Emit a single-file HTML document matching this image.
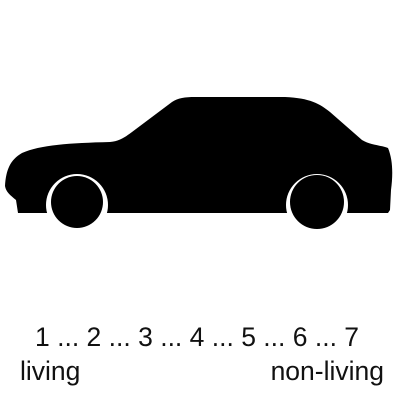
<!DOCTYPE html>
<html><head><style>
body{margin:0;background:#fff;width:400px;height:400px;overflow:hidden;font-family:"Liberation Sans",sans-serif;}
svg{position:absolute;left:0;top:0}
</style></head><body>
<svg width="400" height="400">
<g>
<path d="M18,213 L16,200 C10,195 6,192 5,186 C6,170 10,160 22,153 C40,145 70,143 110,142 C120,141 125,137 132,132 L172,102 C178,98 185,97 195,97 L285,97 C310,98 320,104 330,112 L362,140 C370,145 380,145 388,148 C393,160 393,175 391,190 L390,210 L388,213 Z" fill="#000"/>
<circle cx="77" cy="205" r="31" fill="#fff"/>
<circle cx="317" cy="205" r="31" fill="#fff"/>
<rect x="0" y="213" width="400" height="30" fill="#fff"/>
<circle cx="77" cy="202" r="26" fill="#000"/>
<circle cx="317" cy="202" r="27" fill="#000"/>
</g>
<text x="35" y="346" font-size="26.5" fill="#111" font-family="Liberation Sans, sans-serif">1 ... 2 ... 3 ... 4 ... 5 ... 6 ... 7</text>
<text x="20" y="380" font-size="26.5" fill="#111" font-family="Liberation Sans, sans-serif">living</text>
<text x="384" y="380" text-anchor="end" font-size="26.5" fill="#111" font-family="Liberation Sans, sans-serif">non-living</text>
</svg>
</body></html>
